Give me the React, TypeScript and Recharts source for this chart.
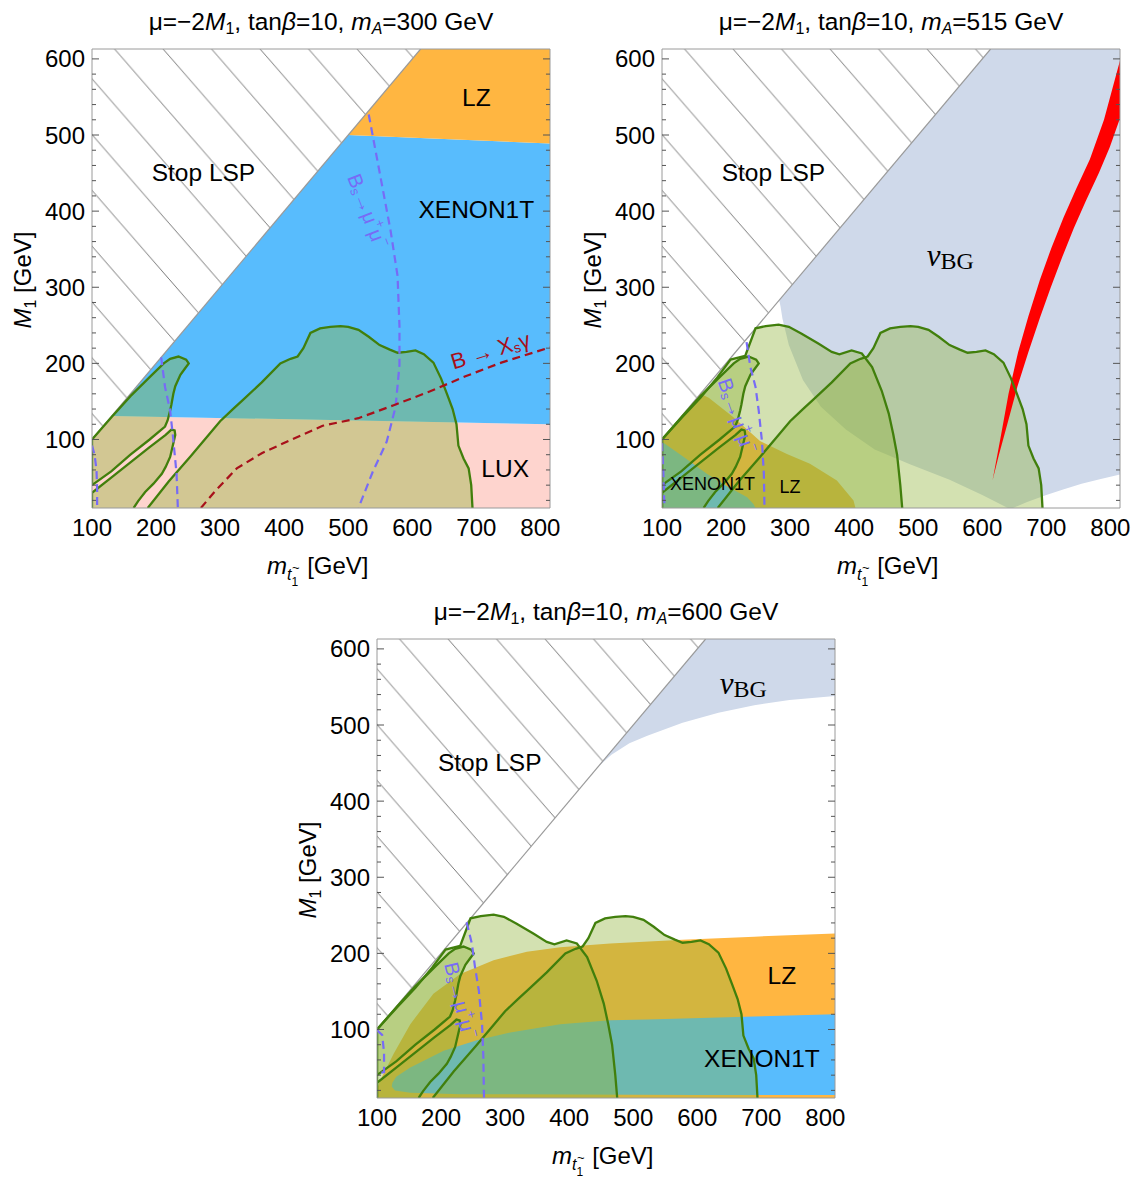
import React from 'react';
import { ComposedChart, Area, Line, XAxis, YAxis, ReferenceDot } from 'recharts';

const X_DOMAIN: [number, number] = [100, 815];
const Y_DOMAIN: [number, number] = [10, 613];
const xMajor = [100, 200, 300, 400, 500, 600, 700, 800];
const yMajor = [100, 200, 300, 400, 500, 600];
const xMinor = [120, 140, 160, 180, 220, 240, 260, 280, 320, 340, 360, 380, 420, 440, 460, 480, 520, 540, 560, 580, 620, 640, 660, 680, 720, 740, 760, 780];
const yMinor = [20, 40, 60, 80, 120, 140, 160, 180, 220, 240, 260, 280, 320, 340, 360, 380, 420, 440, 460, 480, 520, 540, 560, 580];

// shared shapes (m_stop, M1) in GeV
const stopLsp = [[100, 100], [100, 613], [613, 613], [100, 100]];
const diagonal = [[100, 100], [613, 613]];
const cornerBlob = [[100, 10], [100, 30], [130, 50], [160, 70], [190, 90], [215, 106], [224, 113], [229, 112], [230, 106], [227, 95], [222, 77], [215, 64], [209, 55], [196, 42], [183, 31], [172, 19], [165, 10]];
const smallBlob = [[100, 40], [100, 100], [131, 130], [160, 157], [190, 182], [212, 200], [222, 206], [235, 209], [247, 205], [251, 200], [244, 192], [238, 185], [230, 170], [227, 160], [224, 146], [222, 138], [218, 125], [214, 117], [190, 100], [160, 80], [130, 58], [100, 40]];
const bigBlob = [[187, 10], [220, 45], [253, 77], [280, 104], [300, 124], [320, 140], [337, 153], [365, 175], [394, 200], [410, 206], [421, 209], [430, 220], [441, 240], [456, 246], [472, 248], [488, 249], [500, 248], [516, 244], [532, 235], [549, 224], [565, 218], [577, 214], [591, 215], [605, 217], [618, 212], [633, 201], [645, 180], [655, 158], [663, 140], [669, 120], [672, 92], [680, 75], [688, 62], [692, 40], [694, 10]];
const leftBlob = [[100, 10], [100, 100], [130, 128], [160, 155], [185, 180], [207, 205], [230, 210], [246, 246], [262, 249], [282, 251], [298, 248], [318, 239], [344, 226], [365, 215], [377, 212], [396, 217], [412, 213], [428, 195], [443, 164], [454, 134], [461, 107], [467, 80], [472, 40], [475, 10]];

// panel 1: mA = 300 GeV
const lux1 = [[100, 10], [100, 100], [131, 131], [815, 120], [815, 10]];
const xenon1 = [[131, 131], [500, 500], [815, 489], [815, 120], [131, 131]];
const lz1 = [[500, 500], [613, 613], [815, 613], [815, 489], [500, 500]];
const bsmm1 = [[532, 527], [549, 451], [566, 375], [577, 315], [580, 249], [580, 198], [574, 143], [560, 97], [538, 57], [516, 10]];
const bsmm1b = [[208, 208], [214, 169], [222, 138], [227, 99], [232, 55], [234, 10]];
const bsmm1c = [[100, 92], [104, 80], [107, 60], [108, 35], [108, 10]];
const bsg1 = [[270, 10], [292, 32], [326, 62], [365, 82], [404, 97], [460, 118], [516, 128], [571, 145], [627, 163], [683, 183], [739, 201], [815, 221]];

// panel 2: mA = 515 GeV
const nuBG2 = [[283, 283], [613, 613], [815, 613], [815, 54], [785, 48], [755, 42], [725, 34], [700, 27], [670, 18], [648, 10], [640, 10], [600, 27], [549, 47], [488, 67], [432, 87], [387, 113], [348, 143], [320, 178], [298, 224], [288, 259], [285, 275], [283, 283]];
const relic2 = [[616, 46], [628, 100], [641, 160], [656, 215], [672, 262], [690, 310], [708, 352], [727, 392], [747, 430], [768, 468], [790, 520], [815, 598], [815, 522], [799, 484], [782, 450], [762, 414], [743, 378], [725, 340], [707, 300], [690, 260], [672, 215], [655, 170], [639, 120], [626, 80], [616, 46]];
const lz2 = [[100, 10], [100, 100], [160, 160], [173, 155], [212, 129], [253, 98], [295, 81], [331, 68], [373, 46], [399, 20], [402, 10]];
const xenon2 = [[100, 10], [100, 97], [134, 77], [170, 55], [201, 39], [233, 24], [243, 15], [246, 10]];
const bsmm2 = [[232, 228], [238, 195], [246, 169], [251, 138], [256, 98], [259, 55], [260, 10]];
const bsmm2b = [[100, 95], [102, 60], [103, 30], [104, 10]];

// panel 3: mA = 600 GeV
const nuBG3 = [[445, 445], [613, 613], [815, 613], [815, 538], [744, 533], [689, 526], [633, 516], [577, 503], [522, 486], [494, 476], [466, 461], [445, 445]];
const lz3 = [[100, 10], [100, 22], [105, 33], [126, 68], [152, 107], [188, 147], [230, 173], [282, 191], [334, 202], [386, 208], [464, 213], [577, 218], [689, 222], [815, 226], [815, 10], [100, 10]];
const xenon3 = [[123, 25], [124, 30], [130, 38], [152, 50], [204, 72], [256, 86], [308, 96], [386, 107], [464, 112], [522, 113], [689, 117], [815, 120], [815, 14], [600, 14], [230, 15], [152, 17], [128, 20], [123, 25]];
const bsmm3 = [[240, 241], [248, 213], [253, 182], [259, 151], [264, 107], [266, 64], [267, 10]];
const bsmm3b = [[100, 99], [108, 93], [111, 70], [111, 44], [100, 42]];

const FONT = '"Liberation Sans", Arial, sans-serif';
const SERIF = '"Liberation Serif", "Times New Roman", serif';
const COL = {
  xenon: '#58BCFD',
  lz: '#FFB641',
  lux: '#FED4CE',
  nubg: '#CFD9EA',
  green: 'rgb(146,179,60)',
  greenLine: '#417F0C',
  bs: '#776BF6',
  bsg: '#A8101A',
  red: '#FF0000',
  frame: '#9A9A9A',
  hatch: '#555555',
};
const DASH = '8 5';
const THIN = 0.01; // decorative frame axes take no room

const toPts = (a: number[][]) => a.map(([x, y]) => ({ x, y }));
const noTick = () => <g />;

function region(key: string, pts: number[][], fill: string, opacity = 1) {
  return (
    <Area key={key} data={toPts(pts)} dataKey="y" type="linear" fill={fill} fillOpacity={opacity}
      stroke="none" baseValue={pts[0][1]} dot={false} activeDot={false} isAnimationActive={false} />
  );
}

function curve(key: string, pts: number[][], stroke: string, width: number, dash?: string) {
  return (
    <Line key={key} data={toPts(pts)} dataKey="y" type="linear" stroke={stroke} strokeWidth={width}
      strokeDasharray={dash} dot={false} activeDot={false} isAnimationActive={false} />
  );
}

function tag(key: string, x: number, y: number, draw: (cx: number, cy: number) => React.ReactElement) {
  return <ReferenceDot key={key} x={x} y={y} r={0} ifOverflow="visible" shape={(p: any) => draw(p.cx, p.cy)} />;
}

const plain = (text: string, size = 24.5) => (cx: number, cy: number) => (
  <text x={cx} y={cy} textAnchor="middle" dominantBaseline="central" fontFamily={FONT} fontSize={size} fill="#000">{text}</text>
);

const bsLabel = (angle: number) => (cx: number, cy: number) => (
  <text x={cx} y={cy} textAnchor="middle" dominantBaseline="central" fontFamily={FONT} fontSize={20} fill={COL.bs}
    transform={`rotate(${angle} ${cx} ${cy})`}>
    B<tspan fontSize={13} dy={4}>s</tspan><tspan dy={-4}>→μ</tspan><tspan fontSize={13} dy={-8}>+</tspan>
    <tspan dy={8}>μ</tspan><tspan fontSize={13} dy={-8}>−</tspan>
  </text>
);

const nuLabel = (cx: number, cy: number) => (
  <text x={cx} y={cy} textAnchor="middle" dominantBaseline="central" fontFamily={SERIF} fontSize={31} fill="#000">
    <tspan fontStyle="italic">ν</tspan><tspan fontSize={24} dy={6}>BG</tspan>
  </text>
);

const bsgLabel = (cx: number, cy: number) => (
  <text x={cx} y={cy} textAnchor="middle" dominantBaseline="central" fontFamily={FONT} fontSize={22} fill={COL.bsg}
    transform={`rotate(-17 ${cx} ${cy})`}>
    B → X<tspan fontSize={14} dy={5}>s</tspan><tspan dy={-5}>γ</tspan>
  </text>
);

const xTitle = () => (
  <g fontFamily={FONT} fill="#000">
    <text x={267} y={574} fontSize={24}>
      <tspan fontStyle="italic">m</tspan>
      <tspan fontSize={16} fontStyle="italic" dy={6}>t</tspan>
      <tspan fontSize={12} dy={6}>1</tspan>
      <tspan dy={-12} dx={9}>[GeV]</tspan>
    </text>
    <text x={292} y={572} fontSize={13}>~</text>
  </g>
);

const yTitle = () => (
  <text transform="translate(31,280) rotate(-90)" textAnchor="middle" fontFamily={FONT} fontSize={24} fill="#000">
    <tspan fontStyle="italic">M</tspan><tspan fontSize={16} dy={5}>1</tspan><tspan dy={-5}> [GeV]</tspan>
  </text>
);

function frameAxes() {
  const tl = { stroke: '#555', strokeWidth: 1 };
  const al = { stroke: COL.frame, strokeWidth: 1 };
  return [
    <XAxis key="fb" xAxisId="fb" type="number" orientation="bottom" mirror domain={X_DOMAIN} allowDataOverflow ticks={xMajor} interval={0} tick={noTick} tickLine={tl} tickSize={7} height={THIN} axisLine={al} />,
    <XAxis key="fbm" xAxisId="fbm" type="number" orientation="bottom" mirror domain={X_DOMAIN} allowDataOverflow ticks={xMinor} interval={0} tick={noTick} tickLine={tl} tickSize={4} height={THIN} axisLine={false} />,
    <XAxis key="ft" xAxisId="ft" type="number" orientation="top" mirror domain={X_DOMAIN} allowDataOverflow ticks={xMajor} interval={0} tick={noTick} tickLine={tl} tickSize={7} height={THIN} axisLine={al} />,
    <XAxis key="ftm" xAxisId="ftm" type="number" orientation="top" mirror domain={X_DOMAIN} allowDataOverflow ticks={xMinor} interval={0} tick={noTick} tickLine={tl} tickSize={4} height={THIN} axisLine={false} />,
    <YAxis key="fl" yAxisId="fl" type="number" orientation="left" mirror domain={Y_DOMAIN} allowDataOverflow ticks={yMajor} interval={0} tick={noTick} tickLine={tl} tickSize={7} width={THIN} axisLine={al} />,
    <YAxis key="flm" yAxisId="flm" type="number" orientation="left" mirror domain={Y_DOMAIN} allowDataOverflow ticks={yMinor} interval={0} tick={noTick} tickLine={tl} tickSize={4} width={THIN} axisLine={false} />,
    <YAxis key="fr" yAxisId="fr" type="number" orientation="right" mirror domain={Y_DOMAIN} allowDataOverflow ticks={yMajor} interval={0} tick={noTick} tickLine={tl} tickSize={7} width={THIN} axisLine={al} />,
    <YAxis key="frm" yAxisId="frm" type="number" orientation="right" mirror domain={Y_DOMAIN} allowDataOverflow ticks={yMinor} interval={0} tick={noTick} tickLine={tl} tickSize={4} width={THIN} axisLine={false} />,
  ];
}

function greens(withLeft: boolean) {
  const fill = [
    region('g-corner', cornerBlob, COL.green, 0.4),
    region('g-small', smallBlob, COL.green, 0.4),
  ];
  if (withLeft) fill.push(region('g-left', leftBlob, COL.green, 0.4));
  fill.push(region('g-big', bigBlob, COL.green, 0.4));
  return fill;
}

function greenLines(withLeft: boolean) {
  const lines = [
    curve('l-corner', cornerBlob, COL.greenLine, 2.3),
    curve('l-small', smallBlob, COL.greenLine, 2.3),
    curve('l-big', bigBlob, COL.greenLine, 2.3),
  ];
  if (withLeft) lines.push(curve('l-left', leftBlob, COL.greenLine, 2.3));
  return lines;
}

interface PanelProps {
  left: number;
  top: number;
  mA: string;
  id: string;
  under: React.ReactElement[];
  over: React.ReactElement[];
  labels: React.ReactElement[];
  withLeft: boolean;
}

function Panel({ left, top, mA, id, under, over, labels, withLeft }: PanelProps) {
  const sub = { fontSize: 16, verticalAlign: '-4px' };
  return (
    <div style={{ position: 'absolute', left, top, width: 570, height: 590 }}>
      <div style={{ position: 'absolute', left: 21, width: 600, top: 7, textAlign: 'center', fontFamily: FONT, fontSize: 24.5, lineHeight: '30px', whiteSpace: 'nowrap' }}>
        μ=−2<i>M</i><sub style={sub}>1</sub>, tan<i>β</i>=10, <i>m</i><sub style={sub}><i>A</i></sub>={mA} GeV
      </div>
      <ComposedChart width={570} height={590} margin={{ top: 49, right: 20, bottom: 81, left: 91 }}>
        <defs>
          <pattern id={id} patternUnits="userSpaceOnUse" x={72} y={0} width={48.5} height={55.8}>
            <path d="M-48.5,-55.8 L97,111.6" stroke={COL.hatch} strokeWidth={0.8} fill="none" />
          </pattern>
        </defs>
        {under}
        {greens(withLeft)}
        {over}
        {region('stop', stopLsp, `url(#${id})`)}
        {curve('diag', diagonal, COL.frame, 1.2)}
        {greenLines(withLeft)}
        {labels}
        <XAxis dataKey="x" type="number" domain={X_DOMAIN} allowDataOverflow ticks={xMajor} interval={0}
          tickLine={false} axisLine={false} tickSize={0} tickMargin={11} height={1}
          tick={{ fontSize: 24, fill: '#000', fontFamily: FONT }} label={xTitle} />
        <YAxis type="number" domain={Y_DOMAIN} allowDataOverflow ticks={yMajor} interval={0}
          tickLine={false} axisLine={false} tickSize={0} tickMargin={7} width={1}
          tick={{ fontSize: 24, fill: '#000', fontFamily: FONT }} label={yTitle} />
        {frameAxes()}
      </ComposedChart>
    </div>
  );
}

export default function App() {
  return (
    <div style={{ position: 'absolute', left: 0, top: 0, width: 1132, height: 1177, background: '#fff' }}>
      <Panel left={0} top={0} mA="300" id="hatch1" withLeft={false}
        under={[
          region('lux', lux1, COL.lux),
          region('xenon', xenon1, COL.xenon),
          region('lz', lz1, COL.lz),
        ]}
        over={[]}
        labels={[
          curve('bs-a', bsmm1, COL.bs, 2.2, DASH),
          curve('bs-b', bsmm1b, COL.bs, 2.2, DASH),
          curve('bs-c', bsmm1c, COL.bs, 2.2, DASH),
          curve('bsg', bsg1, COL.bsg, 2.2, DASH),
          tag('t-stop', 274, 451, plain('Stop LSP')),
          tag('t-lz', 700, 549, plain('LZ')),
          tag('t-xe', 700, 402, plain('XENON1T')),
          tag('t-lux', 745, 62, plain('LUX')),
          tag('t-bs', 530, 400, bsLabel(69)),
          tag('t-bsg', 722, 217, bsgLabel),
        ]}
      />
      <Panel left={570} top={0} mA="515" id="hatch2" withLeft
        under={[
          region('nubg', nuBG2, COL.nubg),
          region('lz', lz2, COL.lz),
          region('xenon', xenon2, COL.xenon),
        ]}
        over={[region('relic', relic2, COL.red)]}
        labels={[
          curve('bs-a', bsmm2, COL.bs, 2.2, DASH),
          curve('bs-b', bsmm2b, COL.bs, 2.2, DASH),
          tag('t-stop', 274, 451, plain('Stop LSP')),
          tag('t-nu', 550, 342, nuLabel),
          tag('t-xe', 179, 42, plain('XENON1T', 18)),
          tag('t-lz', 300, 37, plain('LZ', 18)),
          tag('t-bs', 217, 131, bsLabel(71)),
        ]}
      />
      <Panel left={285} top={590} mA="600" id="hatch3" withLeft
        under={[
          region('nubg', nuBG3, COL.nubg),
          region('lz', lz3, COL.lz),
          region('xenon', xenon3, COL.xenon),
        ]}
        over={[]}
        labels={[
          curve('bs-a', bsmm3, COL.bs, 2.2, DASH),
          curve('bs-b', bsmm3b, COL.bs, 2.2, DASH),
          tag('t-stop', 276, 451, plain('Stop LSP')),
          tag('t-nu', 672, 555, nuLabel),
          tag('t-lz', 732, 171, plain('LZ')),
          tag('t-xe', 701, 62, plain('XENON1T')),
          tag('t-bs', 230, 138, bsLabel(76)),
        ]}
      />
    </div>
  );
}
